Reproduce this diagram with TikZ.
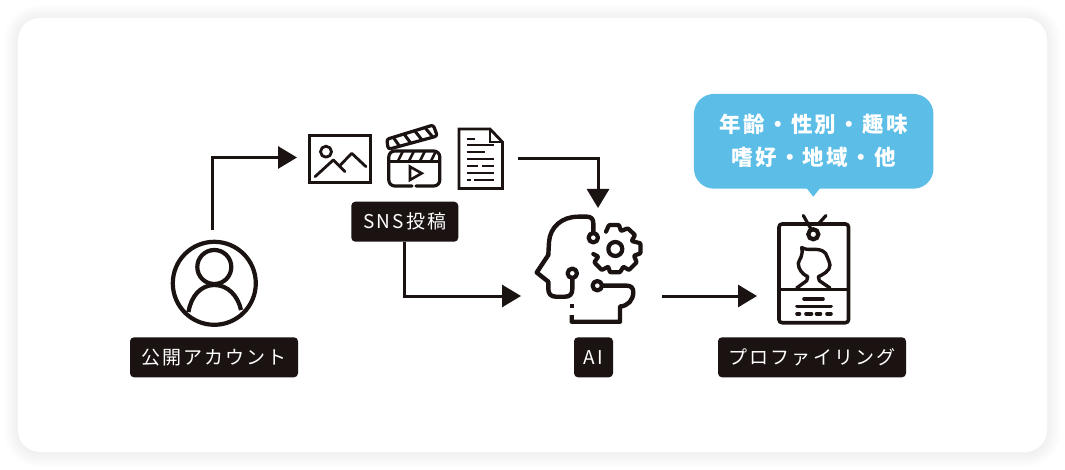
\documentclass[tikz,border=0pt]{standalone}
\usepackage{fontspec}
\usetikzlibrary{arrows.meta,calc}
\newfontfamily\cjklabel[LetterSpace=11]{Noto Sans CJK JP}
\newfontfamily\cjkbubble[LetterSpace=10.5]{Noto Sans CJK JP}
\definecolor{ink}{HTML}{1A1311}
\definecolor{sky}{HTML}{5CBEE7}
\tikzset{
  x=1pt,y=-1pt,
  iconline/.style={draw=ink,line width=3.2pt,line cap=round,line join=round},
  thinline/.style={draw=ink,line width=2.2pt,line cap=butt},
  conn/.style={draw=ink,line width=3pt,-{Triangle[length=19pt,width=22pt]}},
  tag/.style={fill=ink,text=white,rounded corners=4pt,minimum height=40pt,inner sep=0pt,outer sep=0pt,font=\cjklabel\fontsize{19}{20}\selectfont},
  iconbox/.style n args={2}{inner sep=0pt,outer sep=0pt,minimum width=#1,minimum height=#2},
}
\begin{document}
\begin{tikzpicture}
\useasboundingbox (0,0) rectangle (1065,470);
% card with soft shadow
\foreach \g in {14,12,...,2}{
  \fill[black,opacity=0.006,rounded corners=22pt+\g pt] (18-\g,18-\g+1) rectangle (1047+\g,452+\g+1);
}
\fill[white,rounded corners=22pt] (18,18) rectangle (1047,452);

% anchors
\node[iconbox={85pt}{85pt}] (person) at (214.3,283.3) {};
\node[iconbox={64pt}{50pt}] (photo) at (340,157.5) {};
\node[iconbox={45pt}{61pt}] (doc) at (481,158.5) {};
\coordinate (personout) at (212,240);
\coordinate (aitop) at (598,215);
\coordinate (aileft) at (535,296);
\coordinate (airight) at (648,296);
\coordinate (cardleft) at (777,296);

% tags
\node[tag,minimum width=168pt] (acctag) at (214,357.3) {公開アカウント};
\node[tag,minimum width=107pt] (snstag) at (404.8,221.7) {SNS投稿};
\node[tag,minimum width=39pt] (aitag) at (593.5,357.3) {AI};
\node[tag,minimum width=188pt] (proftag) at (812,357.3) {プロファイリング};

% person
\draw[iconline,line width=4.2pt] (214.3,283.3) circle (41.5);
\draw[iconline,line width=4.2pt] (214.3,267) circle (17);
\draw[iconline,line width=4.2pt,line cap=butt] (188.5,312) .. controls (191,296) and (201,285) .. (214.3,285) .. controls (228,285) and (238,296) .. (241,310);

% photo
\draw[iconline,line join=miter] (309.5,135.5) rectangle (370.5,182.5);
\draw[iconline,line width=2.8pt] (326,151.7) circle (5.5);
\draw[iconline,line width=2.8pt] (315,176.7) -- (333.3,160) -- (345,171.7);
\draw[iconline,line width=2.8pt] (340,165.5) -- (351.7,153.3) -- (366,166.7);

% clapper
\coordinate (ca) at (386.7,139.3);
\coordinate (cb) at (433.3,125);
\coordinate (cc) at (388.3,149.3);
\coordinate (cd) at (437.3,136);
\draw[iconline,rounded corners=2.5pt] (ca) -- (cb) -- (cd) -- (cc) -- cycle;
\foreach \t in {0.14,0.37,0.60,0.82}{
  \draw[draw=ink,line width=3pt] ($(ca)!\t!(cb)$) -- ($(cc)!\t+0.09!(cd)$);
}
\draw[iconline,rounded corners=6pt] (412,186) -- (388.8,186) -- (388.8,151) -- (439.8,151) -- (439.8,186) -- (416,186);
\draw[draw=ink,line width=2.5pt] (388.8,161.5) -- (439.8,161.5);
\foreach \s in {398,409,420,431}{
  \draw[draw=ink,line width=2.5pt] (\s,161) -- (\s+5,151);
}
\draw[iconline,line width=2.6pt,line join=miter] (410,166.7) -- (421.7,173.3) -- (410,180) -- cycle;

% document
\draw[iconline,line width=2.8pt,line join=miter] (459,129) -- (490,129) -- (502.4,142) -- (502.4,188.5) -- (459,188.5) -- cycle;
\draw[iconline,line width=2.4pt,line join=miter] (490,129) -- (490,142) -- (502.4,142);
\foreach \a/\b/\c in {466.7/475/139,466.7/494/145,466.7/485/152.3,466.7/494/159,466.7/478.3/166,481.7/494/166,466.7/494/172.7,466.7/471/179.7,474/494/179.7}{
  \draw[thinline] (\a,\c) -- (\b,\c);
}

% AI head
\draw[iconline,line width=4.4pt,line cap=butt] (593.3,233) -- (593.3,223.3) .. controls (593.3,219) and (591,216.7) .. (587,216.7) -- (578,216.7)
  .. controls (562,216.7) and (550,227) .. (549,242) -- (548.3,255) -- (536.7,272.5) -- (548.3,281.7) -- (548.3,289) .. controls (548.3,294) and (551,296.7) .. (556,296.7)
  -- (565,296.7) .. controls (570,296.7) and (572.3,294) .. (572.3,289) -- (572.3,278.3);
\draw[iconline,line width=4.2pt] (593.3,237.7) circle (4.7);
\draw[iconline,line width=4.2pt] (572.3,273.3) circle (4.7);
\draw[iconline,line width=4.2pt] (597.3,285.7) circle (4.7);
\draw[iconline,line width=4.4pt,line cap=butt] (602,285.7) -- (627,285.7) .. controls (631,285.7) and (633.3,288) .. (633.3,292) .. controls (633.3,300) and (628,306) .. (620,306.5) -- (620,321.7) -- (571.7,321.7) -- (571.7,315);
\fill[ink] (569.7,304) rectangle (573.7,308);
% gear
\draw[iconline,line width=4.2pt,line join=round,rounded corners=0.8pt] (606,231.7) -- (609,225) -- (619,225) -- (621,231) -- (627.7,228.3) -- (635,235) -- (631.7,241) -- (640.5,243.3) -- (640.5,253.3) -- (634,255.7) -- (636.7,262.3) -- (629,270) -- (623.3,266.7) -- (620,272.3) -- (610,272.3) -- (608.3,266.7) -- (601.7,270) -- (594.3,262.3) -- (598.3,256.7) -- (593.3,254);
\draw[iconline,line width=4.2pt] (615.3,249) circle (7);

% id card
\draw[iconline,line width=3.6pt,rounded corners=3pt] (779,224) rectangle (848.5,322.7);
\draw[iconline,line width=3.2pt,line cap=butt] (779,289.5) -- (848.5,289.5);
\draw[iconline] (803.3,215.5) -- (811,229);
\draw[iconline] (826,215.5) -- (818.3,224);
\draw[draw=ink,fill=white,line width=4.2pt] (813.3,234.3) circle (5);
\draw[iconline,line width=3.4pt] (796.7,288) -- (806.7,280.7) -- (807.7,276.7) .. controls (802,274) and (798.3,269) .. (798.3,263.3) .. controls (799,259) and (803.5,257) .. (801.7,247.5)
  .. controls (805,249.5) and (808,249.5) .. (812,249.3) .. controls (822,249) and (826,252) .. (827,256.5) .. controls (828,260) and (830,262) .. (830,265) .. controls (830,271) and (823,274.5) .. (818.3,276.7) -- (819.3,280.7) -- (830,288);
\draw[iconline,line width=3.6pt] (804,299) -- (823,299);
\draw[iconline,line width=3.6pt] (797,306.3) -- (831,306.3);
\foreach \a/\b in {797/799.5,806/811.5,816.5/820.5,827/831}{
  \draw[iconline,line width=3.6pt] (\a,313.7) -- (\b,313.7);
}

% bubble
\fill[sky] (805.7,187) -- (813.3,196.7) -- (821,187) -- cycle;
\node[fill=sky,rounded corners=20pt,minimum width=239.5pt,minimum height=94.7pt,inner sep=0pt,outer sep=0pt,text=white,align=center,font=\cjkbubble\bfseries\fontsize{21.5}{33}\selectfont] (bubble) at (813.7,141.3) {年齢・性別・趣味\\嗜好・地域・他};

% connectors
\draw[conn,shorten <=10pt,shorten >=11pt] (personout) |- (photo.west);
\draw[conn,shorten <=14pt,shorten >=7pt] (doc.east) -| (aitop);
\draw[conn,shorten >=14pt] (snstag.south) |- (aileft);
\draw[conn,shorten <=14pt,shorten >=20pt] (airight) -- (cardleft);
\end{tikzpicture}
\end{document}
